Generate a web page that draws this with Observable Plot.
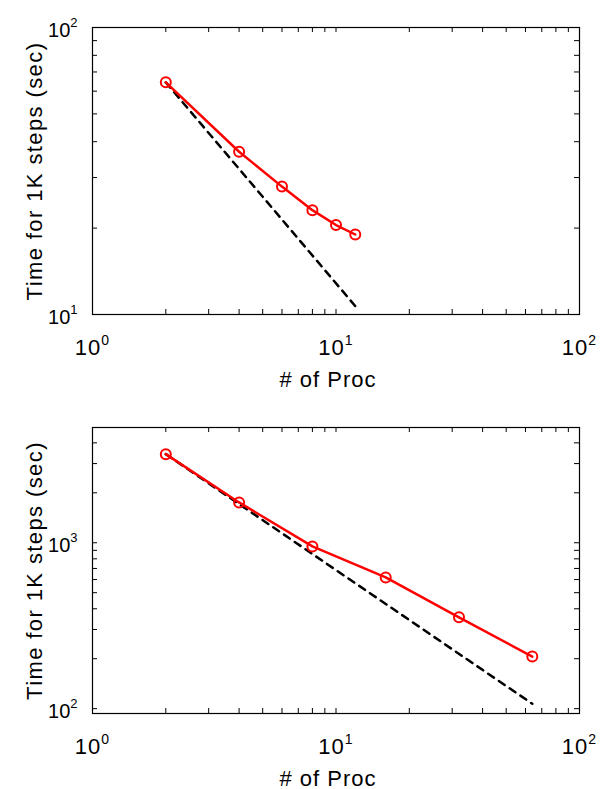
<!DOCTYPE html>
<html><head><meta charset="utf-8">
<script src="https://cdn.jsdelivr.net/npm/d3@7"></script>
<script src="https://cdn.jsdelivr.net/npm/@observablehq/plot@0.6"></script>
<style>
body{margin:0;background:#fff}
#charts svg{display:block}
</style>
</head><body><div id="charts"></div>
<script>
// ---- data ----
const procTop = [2, 4, 6, 8, 10, 12];
const timeTop = [64.4, 36.9, 27.9, 23.1, 20.5, 19.0];
const idealProcTop = [2, 12];
const idealTimeTop = [64.4, 10.7];

const procBottom = [2, 4, 8, 16, 32, 64];
const timeBottom = [3420, 1750, 950, 618, 355, 206];
const idealProcBottom = [2, 64];
const idealTimeBottom = [3420, 107];

const xMajor = [1, 10, 100];
const xMinor = [2, 3, 4, 5, 6, 7, 8, 9, 20, 30, 40, 50, 60, 70, 80, 90];
const yTopMajor = [10, 100];
const yTopMinor = [20, 30, 40, 50, 60, 70, 80, 90];
const yBottomMajor = [100, 1000];
const yBottomMinor = [200, 300, 400, 500, 600, 700, 800, 900, 2000, 3000, 4000];
const yTopDomain = [10, 100];
const yBottomDomain = [93.5, 4950];

const xLabel = "# of Proc";
const yLabel = "Time for 1K steps (sec)";

const W = 601, ML = 92, MR = 22, MT = 27;
const fmt = d => "10^" + Math.round(Math.log10(d));

function panel({proc, time, idealProc, idealTime, yDomain, yMajor, yMinor, height, marginBottom}) {
  const inner = height - MT - marginBottom;
  const innerW = W - ML - MR;
  const meas = proc.map((p, i) => ({p, t: time[i]}));
  const ideal = idealProc.map((p, i) => ({p, t: idealTime[i]}));
  const xAll = [...xMajor, ...xMinor], yAll = [...yMajor, ...yMinor];
  const tk = 5;
  const svg = Plot.plot({
    width: W, height, marginTop: MT, marginLeft: ML, marginRight: MR, marginBottom,
    style: {fontFamily: "'Liberation Sans', Arial, sans-serif", fontSize: "22px", color: "#000", background: "#fff", overflow: "visible"},
    x: {type: "log", domain: [1, 100]},
    y: {type: "log", domain: yDomain},
    marks: [
      Plot.ruleX(xAll, {insetTop: inner - tk, stroke: "#000", strokeWidth: 1}),
      Plot.ruleX(xAll, {insetBottom: inner - tk, stroke: "#000", strokeWidth: 1}),
      Plot.ruleY(yAll, {insetRight: innerW - tk, stroke: "#000", strokeWidth: 1}),
      Plot.ruleY(yAll, {insetLeft: innerW - tk, stroke: "#000", strokeWidth: 1}),
      Plot.frame({stroke: "#000", strokeWidth: 1.2}),
      Plot.axisX({ticks: xMajor, tickSize: 0, tickPadding: 25, tickFormat: fmt,
                  label: xLabel, labelAnchor: "center", labelOffset: 72}),
      Plot.axisY({ticks: yMajor, tickSize: 0, tickPadding: 15, tickFormat: fmt, label: null, dy: 3, fontSize: 20}),
      Plot.axisY({ticks: [], tickSize: 0, label: yLabel, labelAnchor: "center", labelOffset: 66}),
      Plot.line(ideal, {x: "p", y: "t", stroke: "#000", strokeWidth: 2.5, strokeDasharray: "7,6"}),
      Plot.line(meas, {x: "p", y: "t", stroke: "#ff0000", strokeWidth: 2.5}),
      Plot.dot(meas, {x: "p", y: "t", r: 5, stroke: "#ff0000", strokeWidth: 2, fill: "none"})
    ]
  });
  const ns = "http://www.w3.org/2000/svg";
  svg.querySelectorAll("text").forEach(t => {
    const raw = t.textContent || "";
    const s = raw.replace(/[\u2190-\u2193]/g, "").trim();
    const m = s.match(/^(\d+)\^(\d+)$/);
    const isY = !!t.closest('[aria-label="y-axis tick label"]');
    if (m) {
      t.textContent = m[1];
      if (!isY) t.setAttribute("letter-spacing", "1");
      const ts = document.createElementNS(ns, "tspan");
      ts.setAttribute("dy", "-10");
      ts.setAttribute("font-size", isY ? "13" : "14");
      ts.textContent = m[2];
      t.appendChild(ts);
    } else if (s === xLabel) {
      t.textContent = s;
      t.setAttribute("letter-spacing", "1");
      t.setAttribute("dx", "-8");
    } else if (s === yLabel) {
      t.textContent = s;
      t.setAttribute("font-size", "22");
      t.setAttribute("letter-spacing", "1.4");
    }
  });
  return svg;
}

const root = document.getElementById("charts");
root.appendChild(panel({proc: procTop, time: timeTop, idealProc: idealProcTop, idealTime: idealTimeTop,
  yDomain: yTopDomain, yMajor: yTopMajor, yMinor: yTopMinor, height: 400, marginBottom: 86}));
root.appendChild(panel({proc: procBottom, time: timeBottom, idealProc: idealProcBottom, idealTime: idealTimeBottom,
  yDomain: yBottomDomain, yMajor: yBottomMajor, yMinor: yBottomMinor, height: 389, marginBottom: 76}));
</script>
</body></html>
